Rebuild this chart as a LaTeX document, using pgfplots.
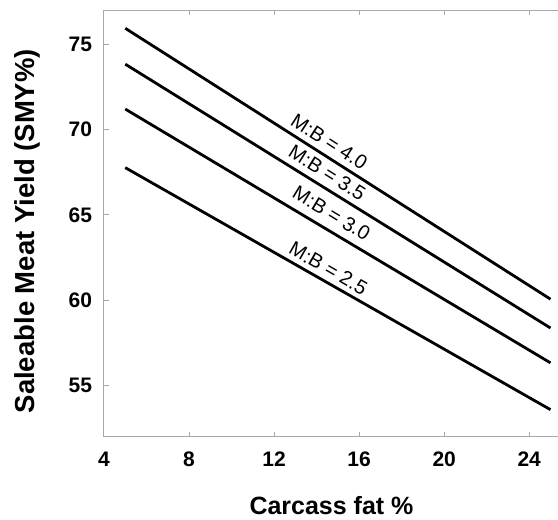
\documentclass[border=0pt]{standalone}
\usepackage{fontspec}
\setmainfont{Liberation Sans}
\usepackage{pgfplots}
\pgfplotsset{compat=1.18}
\definecolor{AxGray}{HTML}{A8A8A8}

\begin{document}
\begin{tikzpicture}
\begin{axis}[
  scale only axis,
  width=227.5pt, height=213.5pt,
  xmin=4, xmax=25.4, ymin=52, ymax=77,
  axis x line=box, axis y line*=left,
  axis line style={AxGray,line width=0.5pt},
  xtick={4,8,12,16,20,24}, ytick={55,60,65,70,75},
  tick align=inside, major tick length=2.5pt,
  tick style={AxGray,line width=0.5pt},
  x tick label style={font=\fontsize{10.5}{12}\selectfont\bfseries, yshift=-4pt},
  y tick label style={font=\fontsize{10.5}{12}\selectfont\bfseries, xshift=-2.5pt},
  /pgf/number format/assume math mode=true,
  xlabel={Carcass fat \%},
  xlabel style={font=\fontsize{12.5}{14}\selectfont\bfseries,
    at={([yshift=-39pt]axis description cs:0.5,0)}, anchor=base},
  ylabel={Saleable Meat Yield (SMY\%)},
  ylabel style={font=\fontsize{13.75}{15}\selectfont\bfseries,
    at={([xshift=-34.5pt]axis description cs:0,0.482)}, anchor=base},
  clip=false,
]
\addplot[black, line width=1.4pt] coordinates {(5,75.93) (25,60.07)};
\addplot[black, line width=1.4pt] coordinates {(5,73.83) (25,58.38)};
\addplot[black, line width=1.4pt] coordinates {(5,71.20) (25,56.34)};
\addplot[black, line width=1.4pt] coordinates {(5,67.77) (25,53.60)};
\node[font=\fontsize{10}{12}\selectfont, rotate=-32.9] at (axis cs:14.6,69.29)  {M:B = 4.0};
\node[font=\fontsize{10}{12}\selectfont, rotate=-32.2] at (axis cs:14.5,67.48)  {M:B = 3.5};
\node[font=\fontsize{10}{12}\selectfont, rotate=-31.2] at (axis cs:14.7,65.09)  {M:B = 3.0};
\node[font=\fontsize{10}{12}\selectfont, rotate=-29.9] at (axis cs:14.55,61.88) {M:B = 2.5};
\end{axis}
\pgfresetboundingbox
\path ([shift={(-52pt,-41.5pt)}]current axis.south west) rectangle ([shift={(-0.5pt,5pt)}]current axis.north east);
\end{tikzpicture}
\end{document}
